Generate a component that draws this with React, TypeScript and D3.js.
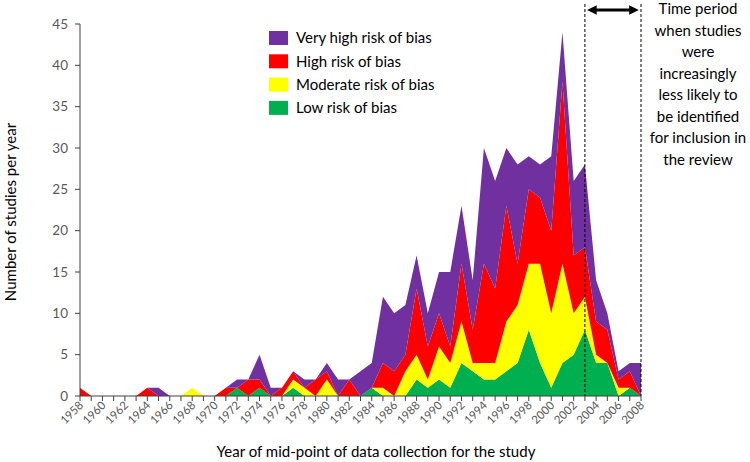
import { useEffect, useRef } from "react";
import * as d3 from "d3";

// Year of mid-point of data collection, 1958..2008
const years = [
  1958, 1959, 1960, 1961, 1962, 1963, 1964, 1965, 1966, 1967,
  1968, 1969, 1970, 1971, 1972, 1973, 1974, 1975, 1976, 1977,
  1978, 1979, 1980, 1981, 1982, 1983, 1984, 1985, 1986, 1987,
  1988, 1989, 1990, 1991, 1992, 1993, 1994, 1995, 1996, 1997,
  1998, 1999, 2000, 2001, 2002, 2003, 2004, 2005, 2006, 2007, 2008,
];

// studies per year, by risk of bias
const low = [
  0, 0, 0, 0, 0, 0, 0, 0, 0, 0,
  0, 0, 0, 0, 1, 0, 1, 0, 0, 1,
  0, 0, 0, 0, 0, 0, 1, 0, 0, 0,
  2, 1, 2, 1, 4, 3, 2, 2, 3, 4,
  8, 4, 1, 4, 5, 8, 4, 4, 0, 1, 0,
];
const moderate = [
  0, 0, 0, 0, 0, 0, 0, 0, 0, 0,
  1, 0, 0, 0, 0, 0, 0, 0, 0, 1,
  1, 0, 2, 0, 0, 0, 0, 1, 0, 3,
  3, 1, 4, 3, 5, 1, 2, 2, 6, 7,
  8, 12, 9, 12, 5, 4, 1, 0, 1, 0, 0,
];
const high = [
  1, 0, 0, 0, 0, 0, 1, 0, 0, 0,
  0, 0, 0, 1, 0, 2, 1, 0, 1, 1,
  0, 2, 1, 0, 2, 0, 0, 3, 3, 2,
  8, 4, 4, 2, 7, 4, 12, 9, 14, 5,
  9, 8, 10, 22, 7, 6, 4, 4, 1, 2, 0,
];
const veryHigh = [
  0, 0, 0, 0, 0, 0, 0, 1, 0, 0,
  0, 0, 0, 0, 1, 0, 3, 1, 0, 0,
  1, 0, 1, 2, 0, 3, 3, 8, 7, 6,
  4, 4, 5, 9, 7, 6, 14, 13, 7, 12,
  4, 4, 9, 6, 9, 10, 5, 2, 1, 1, 4,
];

const keys = ["low", "moderate", "high", "veryHigh"];
const colors: Record<string, string> = {
  low: "#00B050",
  moderate: "#FFFF00",
  high: "#FF0000",
  veryHigh: "#7030A0",
};
const legendItems = [
  { key: "veryHigh", label: "Very high risk of bias" },
  { key: "high", label: "High risk of bias" },
  { key: "moderate", label: "Moderate risk of bias" },
  { key: "low", label: "Low risk of bias" },
];
const yTicks = [0, 5, 10, 15, 20, 25, 30, 35, 40, 45];
const noteLines = [
  "Time period",
  "when studies",
  "were",
  "increasingly",
  "less likely to",
  "be identified",
  "for inclusion in",
  "the review",
];

const FONT = "Lato, 'Open Sans', sans-serif";

export default function App() {
  const svgRef = useRef<SVGSVGElement>(null);

  useEffect(() => {
    const svg = svgRef.current;
    if (svg === null) return;
    const root = d3.select(svg);
    root.selectAll("*").remove();

    const x = d3.scaleLinear().domain([1958, 2008]).range([80, 641]);
    const y = d3.scaleLinear().domain([0, 45]).range([396, 24]);

    const rows = years.map((yr, i) => ({
      year: yr,
      low: low[i],
      moderate: moderate[i],
      high: high[i],
      veryHigh: veryHigh[i],
    }));
    const series = d3.stack<any>().keys(keys)(rows);

    const area = d3
      .area<any>()
      .x((d) => x(d.data.year))
      .y0((d) => y(d[0]))
      .y1((d) => y(d[1]))
      .curve(d3.curveLinear);

    root
      .append("g")
      .selectAll("path")
      .data(series)
      .join("path")
      .attr("d", area as any)
      .attr("fill", (s) => colors[s.key])
      .attr("stroke", "none");

    // axes
    const axisColor = "#404040";
    root
      .append("line")
      .attr("x1", x(1958))
      .attr("x2", x(1958))
      .attr("y1", y(45))
      .attr("y2", y(0))
      .attr("stroke", axisColor);
    root
      .append("line")
      .attr("x1", x(1958))
      .attr("x2", x(2008))
      .attr("y1", y(0))
      .attr("y2", y(0))
      .attr("stroke", axisColor);

    const yg = root.append("g");
    yTicks.forEach((t) => {
      yg.append("line")
        .attr("x1", x(1958) - 5)
        .attr("x2", x(1958))
        .attr("y1", y(t))
        .attr("y2", y(t))
        .attr("stroke", axisColor);
      yg.append("text")
        .attr("x", 68)
        .attr("y", y(t))
        .attr("dy", "0.35em")
        .attr("text-anchor", "end")
        .attr("font-family", FONT)
        .attr("font-size", 13.5)
        .attr("fill", "#595959")
        .text(t);
    });

    const xg = root.append("g");
    years.forEach((yr) => {
      xg.append("line")
        .attr("x1", x(yr))
        .attr("x2", x(yr))
        .attr("y1", y(0))
        .attr("y2", y(0) + 5)
        .attr("stroke", axisColor);
      if ((yr - 1958) % 2 === 0) {
        xg.append("text")
          .attr("transform", `translate(${x(yr) + 4},${y(0) + 10}) rotate(-45)`)
          .attr("text-anchor", "end")
          .attr("font-family", FONT)
          .attr("font-size", 11.5)
          .attr("fill", "#595959")
          .text(yr);
      }
    });

    // axis titles
    root
      .append("text")
      .attr("transform", `translate(16,212) rotate(-90)`)
      .attr("text-anchor", "middle")
      .attr("font-family", FONT)
      .attr("font-size", 15)
      .attr("fill", "#000")
      .text("Number of studies per year");
    root
      .append("text")
      .attr("x", 376)
      .attr("y", 457)
      .attr("text-anchor", "middle")
      .attr("font-family", FONT)
      .attr("font-size", 15)
      .attr("fill", "#000")
      .text("Year of mid-point of data collection for the study");

    // legend
    const lg = root.append("g");
    legendItems.forEach((item, i) => {
      const cy = 38 + i * 23.3;
      lg.append("rect")
        .attr("x", 269)
        .attr("y", cy - 7)
        .attr("width", 19)
        .attr("height", 14)
        .attr("fill", colors[item.key]);
      lg.append("text")
        .attr("x", 296)
        .attr("y", cy)
        .attr("dy", "0.35em")
        .attr("font-family", FONT)
        .attr("font-size", 15)
        .attr("fill", "#000")
        .text(item.label);
    });

    // time period annotation
    [2003, 2008].forEach((yr) => {
      root
        .append("line")
        .attr("x1", x(yr))
        .attr("x2", x(yr))
        .attr("y1", 4)
        .attr("y2", y(0))
        .attr("stroke", "#000")
        .attr("stroke-width", 1)
        .attr("stroke-dasharray", "3,2");
    });
    const defs = root.append("defs");
    ["start", "end"].forEach((id) => {
      defs
        .append("marker")
        .attr("id", `arrow-${id}`)
        .attr("viewBox", "0 0 10 10")
        .attr("refX", 5)
        .attr("refY", 5)
        .attr("markerWidth", 4)
        .attr("markerHeight", 3.2)
        .attr("orient", id === "end" ? "auto" : "auto-start-reverse")
        .append("path")
        .attr("d", "M0,0 L10,5 L0,10 z")
        .attr("fill", "#000");
    });
    root
      .append("line")
      .attr("x1", x(2003) + 7)
      .attr("x2", x(2008) - 7)
      .attr("y1", 10)
      .attr("y2", 10)
      .attr("stroke", "#000")
      .attr("stroke-width", 3)
      .attr("marker-start", "url(#arrow-start)")
      .attr("marker-end", "url(#arrow-end)");

    const note = root.append("g");
    noteLines.forEach((line, i) => {
      note
        .append("text")
        .attr("x", 698)
        .attr("y", 9 + i * 21.5)
        .attr("dy", "0.35em")
        .attr("text-anchor", "middle")
        .attr("font-family", FONT)
        .attr("font-size", 15)
        .attr("fill", "#000")
        .text(line);
    });
  }, []);

  return (
    <svg
      ref={svgRef}
      width={750}
      height={462}
      style={{ position: "absolute", left: 0, top: 0, background: "#fff" }}
    />
  );
}
